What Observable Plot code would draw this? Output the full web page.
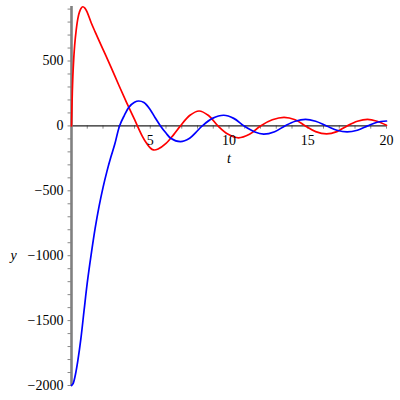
<!DOCTYPE html>
<html>
<head>
<meta charset="utf-8">
<script src="https://cdn.jsdelivr.net/npm/d3@7"></script>
<script src="https://cdn.jsdelivr.net/npm/@observablehq/plot@0.6"></script>
<style>
  html, body { margin: 0; padding: 0; background: #fff; }
  svg text { font-family: "Liberation Serif", "Times New Roman", serif !important; font-size: 14px !important; }
</style>
</head>
<body>
<div id="chart"></div>
<script>
// Red curve samples (t, y)
const redT = [0, 0.05, 0.1, 0.2, 0.3, 0.4, 0.5, 0.6, 0.72, 0.85, 1.0, 1.25, 1.5, 2.0, 2.5, 3.0, 3.5, 4.0, 4.5, 4.8, 5.0, 5.2, 5.5, 6.0, 6.5, 6.92, 7.5, 8.1, 8.7, 9.3, 9.95, 10.6, 11.3, 12.0, 12.75, 13.5, 14.2, 14.85, 15.5, 16.2, 16.85, 17.5, 18.15, 18.8, 19.4, 20];
const redY = [0, 250, 420, 620, 740, 825, 875, 905, 918, 908, 875, 795, 725, 590, 455, 315, 180, 50, -80, -140, -170, -185, -178, -135, -65, 0, 80, 115, 80, 0, -65, -92, -65, 0, 47, 66, 47, 0, -44, -62, -44, 0, 36, 51, 36, 5];

// Blue curve samples (t, y)
const blueT = [0, 0.1, 0.25, 0.4, 0.6, 0.8, 1.0, 1.25, 1.5, 1.75, 2.0, 2.25, 2.5, 2.75, 3.05, 3.35, 3.65, 4.0, 4.27, 4.6, 5.0, 5.3, 5.65, 6.0, 6.3, 6.92, 7.5, 7.9, 8.3, 8.95, 9.67, 10.3, 10.95, 11.6, 12.2, 12.9, 13.55, 14.2, 14.86, 15.5, 16.2, 16.85, 17.5, 18.15, 18.8, 19.4, 20];
const blueY = [-2000, -1985, -1915, -1810, -1635, -1420, -1210, -990, -790, -620, -475, -350, -240, -140, 0, 80, 145, 182, 192, 180, 125, 65, 0, -55, -95, -121, -95, -50, 0, 58, 82, 58, 0, -45, -64, -45, 0, 36, 51, 36, 0, -33, -46, -33, 0, 28, 38];

const xMajor = [5, 10, 15, 20];
const xMinor = d3.range(1, 21);
const yMajor = [500, 0, -500, -1000, -1500, -2000];
const yMinor = d3.range(-2000, 901, 100);

const red = redT.map((t, i) => ({t, y: redY[i]}));
const blue = blueT.map((t, i) => ({t, y: blueY[i]}));

const font = "Liberation Serif, Times New Roman, serif";
const fmt = d => d < 0 ? "\u2212" + Math.abs(d) : String(d);

const chart = Plot.plot({
  width: 400,
  height: 400,
  marginLeft: 71,
  marginRight: 14,
  marginTop: 6,
  marginBottom: 15,
  x: {domain: [0, 20], axis: null},
  y: {domain: [-2000, 920], axis: null},
  style: {fontFamily: font, fontSize: "14px", background: "#fff"},
  marks: [
    Plot.ruleX(xMinor, {x: d => d, y1: 0, y2: -25, stroke: "#888", strokeWidth: 1}),
    Plot.ruleY(yMinor, {y: d => d, x1: -0.22, x2: 0, stroke: "#888", strokeWidth: 1}),
    Plot.ruleY([0], {stroke: "#222", strokeWidth: 1.3}),
    Plot.ruleX([0], {stroke: "#808080", strokeWidth: 2.6}),
    Plot.line(red, {x: "t", y: "y", stroke: "#ff0000", strokeWidth: 1.7, curve: "catmull-rom"}),
    Plot.line(blue, {x: "t", y: "y", stroke: "#0000ff", strokeWidth: 1.7, curve: "catmull-rom"}),
    Plot.text(xMajor, {x: d => d, y: 0, dy: 15, text: d => String(d), fontSize: 14, fill: "#000"}),
    Plot.text(yMajor, {x: 0, y: d => d, dx: -8, textAnchor: "end", text: fmt, fontSize: 14, fill: "#000"}),
    Plot.text(["t"], {x: 10, y: 0, dy: 33, text: d => d, fontSize: 14, fontStyle: "italic", fill: "#000"}),
    Plot.text(["y"], {x: 0, y: -1000, dx: -58, text: d => d, fontSize: 14, fontStyle: "italic", fill: "#000"})
  ]
});
document.getElementById("chart").appendChild(chart);
</script>
</body>
</html>
